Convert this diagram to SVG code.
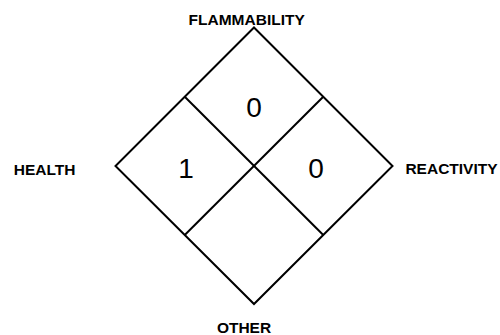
<svg xmlns="http://www.w3.org/2000/svg" width="500" height="335" viewBox="0 0 500 335">
<style>
.ln{fill:none;stroke:#000;stroke-width:2}
.lbl{font-family:"Liberation Sans",Arial,sans-serif;font-weight:bold;font-size:15.5px;fill:#000;text-anchor:middle}
.num{font-family:"Liberation Sans",Arial,sans-serif;font-size:28px;fill:#000;text-anchor:middle}
</style>
<rect width="500" height="335" fill="#fff"/>
<g id="connectors">
<polygon class="ln" points="254,27.5 392.5,166 254,304 115.5,166"/>
<line class="ln" x1="184.75" y1="96.75" x2="323.25" y2="235"/>
<line class="ln" x1="323.25" y1="96.75" x2="184.75" y2="235"/>
</g>
<g id="flammability"><text class="num" x="254" y="117">0</text><text class="lbl" x="246.7" y="24.5">FLAMMABILITY</text></g>
<g id="health"><text class="num" x="186" y="178">1</text><text class="lbl" x="44.7" y="175">HEALTH</text></g>
<g id="reactivity"><text class="num" x="316" y="178">0</text><text class="lbl" x="451.5" y="173.5">REACTIVITY</text></g>
<g id="other"><text class="lbl" x="244" y="332.5">OTHER</text></g>
</svg>
